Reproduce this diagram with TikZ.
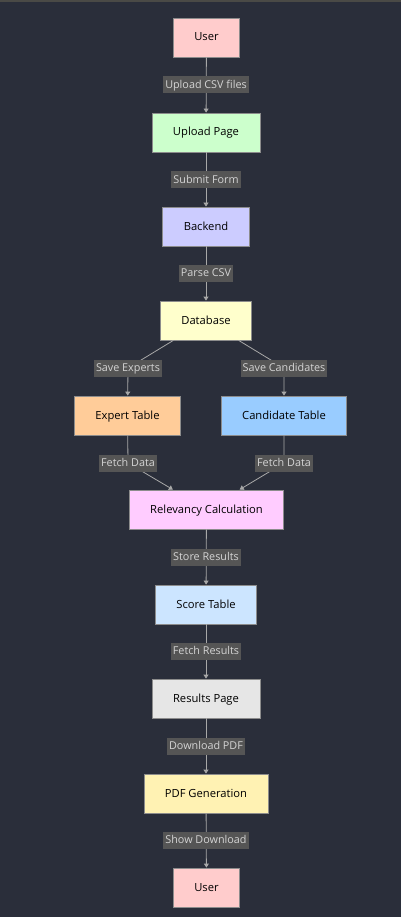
\documentclass[tikz,border=0pt]{standalone}
\usepackage{fontspec}
\setmainfont{Open Sans}
\usetikzlibrary{arrows.meta,positioning}
\definecolor{bgdark}{HTML}{2A2E3A}
\definecolor{topline}{HTML}{4A4A46}
\definecolor{edgegray}{HTML}{A8A8A8}
\definecolor{lblbg}{HTML}{555555}
\definecolor{lbltext}{HTML}{D4D4D4}
\definecolor{boxline}{HTML}{8C8C8C}
\definecolor{cuser}{HTML}{FFCCCC}
\definecolor{cupload}{HTML}{CCFFCC}
\definecolor{cbackend}{HTML}{CCCCFF}
\definecolor{cdb}{HTML}{FFFFCC}
\definecolor{cexpert}{HTML}{FFCC99}
\definecolor{ccand}{HTML}{99CCFF}
\definecolor{crel}{HTML}{FFCCFF}
\definecolor{cscore}{HTML}{CCE5FF}
\definecolor{cresult}{HTML}{E6E6E6}
\definecolor{cpdf}{HTML}{FFF2B3}

\begin{document}
\begin{tikzpicture}[
  x=1pt,y=-1pt,>={Triangle[length=4pt,width=5pt]},
  flow/.style={->,line width=.8pt,draw=edgegray,color=edgegray},
  box/.style={draw=boxline,line width=.8pt,minimum height=39pt,inner xsep=21pt,
    text height=8pt,text depth=1pt,
    font=\fontsize{11.2}{13}\selectfont,text=black},
  lbl/.style={fill=lblbg,text=lbltext,inner xsep=2pt,inner ysep=2pt,
    text height=8pt,text depth=1.2pt,
    minimum height=17pt,font=\fontsize{10.8}{12}\selectfont}]
\fill[bgdark] (0,0) rectangle (401,917);
\fill[topline] (0,0) rectangle (401,2);
\useasboundingbox (0,0) rectangle (401,917);
% nodes
\node[box,fill=cuser] (user1) at (206.5,37.5) {User};
\node[box,fill=cupload] (upload) at (206,132.5) {Upload Page};
\node[box,fill=cbackend] (backend) at (206,226.5) {Backend};
\node[box,fill=cdb] (db) at (206,320.5) {Database};
\node[box,fill=cexpert] (expert) at (127.5,415.5) {Expert Table};
\node[box,fill=ccand] (cand) at (284,415.5) {Candidate Table};
\node[box,fill=crel] (rel) at (206.5,509.5) {Relevancy Calculation};
\node[box,fill=cscore] (score) at (206,604.5) {Score Table};
\node[box,fill=cresult] (results) at (206,698.5) {Results Page};
\node[box,fill=cpdf] (pdf) at (206,793.5) {PDF Generation};
\node[box,fill=cuser] (user2) at (206.5,887.5) {User};
% edge labels
\coordinate (lsaveexp) at (128,368);
\coordinate (lsavecand) at (284,368);
\coordinate (lfetchexp) at (128,463);
\coordinate (lfetchcand) at (284,463);
% connectors
\draw[flow] (user1)--(upload);
\draw[flow] (upload)--(backend);
\draw[flow] (backend)--(db);
\draw[flow] (db)--(lsaveexp)--(expert);
\draw[flow] (db)--(lsavecand)--(cand);
\draw[flow] (expert)--(lfetchexp)--(rel);
\draw[flow] (cand)--(lfetchcand)--(rel);
\draw[flow] (rel)--(score);
\draw[flow] (score)--(results);
\draw[flow] (results)--(pdf);
\draw[flow] (pdf)--(user2);
\node[lbl] at (206,85) {Upload CSV files};
\node[lbl] at (206,180) {Submit Form};
\node[lbl] at (206,273.5) {Parse CSV};
\node[lbl] at (lsaveexp) {Save Experts};
\node[lbl] at (lsavecand) {Save Candidates};
\node[lbl] at (lfetchexp) {Fetch Data};
\node[lbl] at (lfetchcand) {Fetch Data};
\node[lbl] at (206,557) {Store Results};
\node[lbl] at (206,651.5) {Fetch Results};
\node[lbl] at (206,746) {Download PDF};
\node[lbl] at (206,840.5) {Show Download};
\end{tikzpicture}
\end{document}
